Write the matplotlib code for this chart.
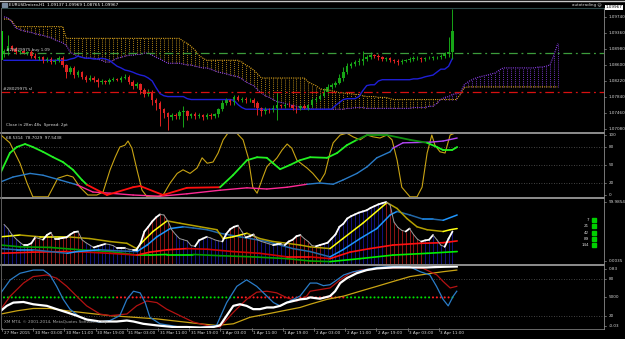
import numpy as np
import matplotlib
matplotlib.use("Agg")
import matplotlib.pyplot as plt
from matplotlib.collections import LineCollection
from matplotlib.lines import Line2D

# ---------------- data (EURUSDmicro H1) ----------------
first_open = 1.0885
closes = [1.0892, 1.0904, 1.0897, 1.0890, 1.0892, 1.0888, 1.0890, 1.0881, 1.0876, 1.0878,
          1.0871, 1.0874, 1.0867, 1.0871, 1.0876, 1.0860, 1.0843, 1.0853, 1.0836, 1.0843,
          1.0832, 1.0825, 1.0829, 1.0825, 1.0820, 1.0822, 1.0820, 1.0825, 1.0827, 1.0825,
          1.0829, 1.0832, 1.0820, 1.0811, 1.0815, 1.0801, 1.0792, 1.0797, 1.0778, 1.0769,
          1.0755, 1.0745, 1.0736, 1.0741, 1.0738, 1.0748, 1.0750, 1.0738, 1.0743, 1.0738,
          1.0741, 1.0736, 1.0741, 1.0738, 1.0743, 1.0755, 1.0769, 1.0776, 1.0771, 1.0783,
          1.0778, 1.0780, 1.0776, 1.0778, 1.0769, 1.0757, 1.0750, 1.0755, 1.0752, 1.0759,
          1.0764, 1.0762, 1.0766, 1.0764, 1.0759, 1.0757, 1.0762, 1.0759, 1.0764, 1.0776,
          1.0780, 1.0787, 1.0797, 1.0808, 1.0813, 1.0818, 1.0829, 1.0843, 1.0857, 1.0862,
          1.0867, 1.0869, 1.0874, 1.0878, 1.0883, 1.0881, 1.0878, 1.0874, 1.0876, 1.0871,
          1.0869, 1.0867, 1.0869, 1.0871, 1.0874, 1.0876, 1.0876, 1.0874, 1.0876, 1.0876,
          1.0878, 1.0878, 1.0881, 1.0885, 1.0890, 1.0941]
# wicks in pips above / below the body
wick_up = [6, 28, 4, 5, 3, 4, 3, 6, 8, 4,
           3, 5, 4, 3, 5, 6, 3, 5, 4, 6,
           3, 4, 6, 4, 3, 4, 3, 5, 4, 3,
           4, 6, 3, 4, 5, 3, 4, 5, 3, 4,
           5, 4, 3, 6, 5, 4, 12, 4, 3, 5,
           4, 3, 4, 5, 3, 4, 8, 5, 4, 6,
           5, 4, 5, 3, 4, 5, 3, 6, 4, 5,
           33, 4, 3, 5, 4, 3, 4, 5, 3, 6,
           5, 4, 8, 6, 5, 4, 10, 12, 8, 6,
           5, 7, 20, 6, 8, 4, 5, 3, 4, 4,
           3, 4, 5, 3, 4, 5, 6, 3, 4, 5,
           3, 4, 5, 6, 37, 52]
wick_dn = [5, 8, 4, 3, 5, 3, 4, 5, 3, 4,
           6, 3, 5, 4, 3, 5, 14, 5, 8, 4,
           6, 5, 4, 5, 12, 4, 5, 4, 3, 4,
           5, 3, 6, 8, 5, 10, 8, 6, 12, 15,
           40, 10, 30, 6, 5, 6, 35, 8, 4, 5,
           4, 6, 4, 5, 4, 6, 4, 3, 6, 5,
           4, 5, 6, 4, 8, 15, 10, 6, 5, 4,
           30, 5, 4, 3, 6, 12, 4, 3, 5, 4,
           5, 3, 4, 5, 4, 5, 3, 6, 4, 5,
           4, 6, 8, 5, 4, 5, 6, 4, 5, 4,
           5, 6, 4, 3, 5, 4, 5, 6, 4, 3,
           5, 4, 3, 4, 5, 17]
kijun = ([1.0871] * 17 +
         [1.0874, 1.0876, 1.0881, 1.0878, 1.0876, 1.0876, 1.0874, 1.0874, 1.0876, 1.0874,
          1.0871, 1.0864, 1.0857, 1.0853, 1.0848, 1.0846, 1.0843, 1.0839, 1.0836, 1.0834,
          1.0829, 1.0822, 1.0806, 1.0792, 1.0787] +
         [1.0785] * 5 + [1.0780] + [1.0778] * 11 + [1.0776, 1.0766, 1.0759] +
         [1.0755] * 23 + [1.0764, 1.0771, 1.0778] + [1.0780] * 3 +
         [1.0785, 1.0799, 1.0811] + [1.0813] * 2 + [1.0822] + [1.0825] * 8 +
         [1.0827] * 2 + [1.0829, 1.0832, 1.0834, 1.0836, 1.0843] + [1.0850] * 2 +
         [1.0857, 1.0876])
span_a = ([1.0969, 1.0969, 1.0965] + [1.0951] * 13 + [1.0923] * 30 +
          [1.0916, 1.0911, 1.0904, 1.0895, 1.0883, 1.0876] + [1.0871] * 9 +
          [1.0867, 1.0860, 1.0855, 1.0848, 1.0839] + [1.0829] * 12 +
          [1.0820, 1.0815, 1.0811, 1.0804, 1.0801, 1.0801, 1.0799, 1.0797, 1.0794, 1.0794,
           1.0792, 1.0792, 1.0790, 1.0790, 1.0787] +
          [1.0785] * 3 + [1.0783] * 3 + [1.0780] + [1.0778] * 17 + [1.0790, 1.0806] +
          [1.0808] * 24)
span_b = ([1.0974, 1.0972, 1.0962, 1.0948, 1.0944, 1.0941, 1.0939, 1.0937, 1.0934, 1.0932,
           1.0930, 1.0927, 1.0925, 1.0920, 1.0916, 1.0913, 1.0906, 1.0890, 1.0885, 1.0881,
           1.0878] + [1.0876] * 3 +
          [1.0874, 1.0871, 1.0867, 1.0867, 1.0871, 1.0876, 1.0878, 1.0881, 1.0883, 1.0883,
           1.0885, 1.0885, 1.0888, 1.0888, 1.0883, 1.0878, 1.0874, 1.0869] +
          [1.0864] * 4 +
          [1.0862, 1.0860, 1.0860, 1.0857, 1.0855, 1.0853, 1.0853, 1.0850, 1.0846, 1.0843,
           1.0841, 1.0839, 1.0836, 1.0834, 1.0832, 1.0827, 1.0820, 1.0815, 1.0811, 1.0801,
           1.0794, 1.0787, 1.0783, 1.0778, 1.0773, 1.0771, 1.0769, 1.0766, 1.0764, 1.0762,
           1.0759] +
          [1.0757] * 2 + [1.0755] * 9 + [1.0757] * 2 + [1.0759] * 3 + [1.0757] * 12 +
          [1.0759] * 4 + [1.0762] * 2 +
          [1.0769, 1.0778, 1.0783, 1.0785, 1.0790, 1.0792, 1.0794, 1.0813, 1.0820, 1.0825,
           1.0829, 1.0832, 1.0834, 1.0836, 1.0839, 1.0841, 1.0848] +
          [1.0853] * 9 + [1.0855, 1.0855, 1.0857, 1.0860, 1.0883, 1.0911])
buy_level = 1.0888
sl_level = 1.0797
price_ticks = [1.0974, 1.0936, 1.0898, 1.0860, 1.0822, 1.0784, 1.0746, 1.0708]

# window 1 (bar index, value)
osc_fast = [(-0.8, 100), (1.5, 87), (4.1, 53), (5.9, 20), (7.4, -3), (11.3, -3), (12.6, 13), (13.8, 28),
            (16.2, 33), (17.7, 30), (19.5, 13), (21.5, 0), (23.8, 0), (25.4, 5), (27.2, 42), (28.5, 63),
            (29.7, 80), (31, 83), (31.8, 90), (32.8, 78), (34.1, 42), (35.4, 8), (36.7, -3), (39.2, -3),
            (40.8, 0), (42.6, 20), (44.4, 36), (45.9, 42), (47.7, 36), (49.5, 45), (50.8, 62), (52.1, 53),
            (53.6, 55), (54.9, 70), (56.2, 92), (57.4, 103), (59.7, 103), (61.3, 92), (62.6, 63), (63.8, 13),
            (64.9, 3), (66.4, 30), (67.4, 47), (68.2, 53), (69, 55), (70, 62), (71.3, 75), (72.6, 85),
            (73.8, 78), (75.1, 58), (77.7, 45), (79.2, 36), (81, 22), (82.3, 36), (83.6, 70), (84.4, 87),
            (86.2, 100), (87.9, 103), (89.5, 97), (91.3, 92), (93.1, 100), (94.6, 97), (96.4, 95),
            (98.2, 100), (99.5, 92), (100.8, 58), (102, 13), (104.1, -3), (105.9, -3), (107.2, 13),
            (108.5, 70), (109.7, 100), (110.5, 83), (111.8, 72), (113.1, 70), (114.4, 100), (115.6, 103)]
osc_mid = [(-0.8, 38), (1.5, 70), (3.3, 80), (5.4, 85), (7.4, 80), (10, 72), (12.6, 63), (15.1, 55),
           (17.7, 42), (20, 25), (21.3, 17), (26.4, 0), (33.1, 13), (34.9, 15), (40.8, 0), (46.9, 12),
           (55.4, 13), (58.7, 33), (62.3, 58), (64.9, 63), (67.4, 62), (69, 53), (70.8, 43), (73.3, 50),
           (75.9, 58), (78.5, 63), (82.8, 62), (85.4, 70), (87.9, 83), (90.5, 92), (93.1, 100),
           (98.2, 100), (104.1, 92), (108.5, 87), (111, 80), (112.6, 75), (114.9, 75), (116.2, 80)]
osc_slow = [(-0.8, 22), (2.3, 30), (6.7, 36), (10, 33), (14.4, 25), (18.7, 17), (22.8, 5), (27.2, 3),
            (33.1, 0), (40, -2), (46.9, 2), (55.4, 8), (62.3, 12), (67.4, 10), (72.6, 13), (77.7, 18),
            (81, 20), (84.4, 18), (86.9, 25), (90.5, 36), (93.1, 47), (95.6, 62), (99, 72), (99.7, 78),
            (102.3, 87), (109.2, 88), (112.6, 90), (116.2, 95)]
osc_header = "68.5314  78.7029  97.5438"

# window 2
rsi_bars = [62, 55, 45, 38, 32, 27, 27, 30, 40, 38,
            36, 44, 48, 38, 38, 39, 40, 45, 49, 50,
            36, 31, 27, 23, 25, 27, 29, 28, 26, 22,
            22, 22, 20, 19, 19, 30, 50, 58, 67, 74,
            79, 78, 68, 53, 45, 38, 36, 34, 26, 25,
            35, 38, 41, 39, 36, 34, 33, 46, 54, 58,
            60, 50, 40, 42, 45, 36, 33, 31, 29, 27,
            28, 28, 27, 33, 36, 42, 44, 38, 33, 26,
            25, 27, 29, 31, 38, 45, 58, 63, 72, 76,
            79, 82, 84, 86, 90, 93, 96, 98, 100, 95,
            66, 57, 52, 50, 55, 45, 37, 33, 35, 36,
            44, 36, 27, 24, 38, 50]
hist_red_ranges = [(6, 20), (35, 43), (58, 64), (73, 81), (98, 107)]
ma21 = [(-0.8, 41), (4.1, 44), (9.2, 41), (16.2, 41), (22, 38), (27.2, 33), (31.5, 30), (34, 21),
        (35.6, 33), (38.2, 50), (41.8, 68), (45.1, 64), (50.3, 58), (54.6, 53), (56.2, 38), (58.7, 41),
        (62.3, 47), (65.6, 38), (69, 33), (72.6, 30), (75.9, 27), (78.5, 24), (83.6, 21), (86.9, 38),
        (92, 64), (98.2, 99), (100.8, 89), (103.3, 72), (105.9, 58), (108.5, 53), (112.6, 50),
        (114.4, 53), (116.2, 55)]
ma42 = [(-0.8, 21), (3.3, 19), (7.4, 19), (11.8, 16), (16.2, 13), (18.7, 16), (24.6, 19), (29.7, 17),
        (34.1, 16), (36.7, 27), (39.2, 41), (42.6, 55), (46, 58), (48.5, 56), (52.1, 53), (55.4, 47),
        (60.5, 41), (67.4, 33), (74.1, 21), (78.5, 16), (83.6, 7), (86.9, 19), (91.3, 38), (95.6, 55),
        (99, 78), (100.8, 84), (104.1, 78), (107.4, 71), (110, 71), (112.6, 69), (116.2, 78)]
ma89 = [(-0.8, 13), (7.4, 15), (16.2, 16), (21.3, 15), (27.2, 13), (34.1, 10), (37.4, 15), (41.8, 19),
        (46.9, 21), (52.1, 20), (58.7, 16), (65.6, 13), (72.6, 7), (78.5, 7), (83.6, 4), (88.7, 15),
        (93.8, 21), (99.7, 27), (106.7, 30), (112.6, 31), (116.2, 34)]
ma144 = [(-0.8, 27), (4.1, 24), (11.8, 23), (19.5, 19), (27.2, 16), (34.1, 10), (37.4, 10), (41.8, 11),
         (48.5, 11), (55.4, 9), (63.8, 7), (72.6, 4), (78.5, 0), (83.6, -1), (91.3, 4), (99.7, 10),
         (108.5, 13), (116.2, 16)]
legend_periods = ["7", "21", "42", "89", "144"]

# window 3
w3_white = [(-0.8, 0.284), (0.7, 0.363), (2.4, 0.416), (5, 0.426), (7.5, 0.389), (11, 0.363),
            (13.5, 0.310), (16.1, 0.258), (18.6, 0.205), (21.2, 0.142), (24.6, 0.110), (28.9, 0.110),
            (31.5, 0.126), (33.2, 0.110), (35.7, 0.073), (39.2, 0.047), (43.4, 0.021), (46.8, 0.021),
            (50.3, 0.012), (53.7, 0.021), (55.4, 0.047), (57.1, 0.205), (58.8, 0.363), (60.5, 0.389),
            (62.2, 0.363), (63.9, 0.310), (65.6, 0.310), (67.4, 0.337), (69.1, 0.337), (70.8, 0.363),
            (72.5, 0.416), (74.2, 0.442), (75.9, 0.468), (77.6, 0.479), (78.5, 0.500), (81, 0.479),
            (83.6, 0.521), (84.9, 0.600), (86.2, 0.732), (87.9, 0.811), (90.4, 0.890), (93, 0.942),
            (95.6, 0.969), (99.8, 0.985), (104.1, 0.985), (108.4, 0.985), (112.6, 0.995), (116.1, 1.0)]
w3_blue = [(-0.8, 0.574), (1.6, 0.784), (4.1, 0.890), (7.5, 0.942), (10.1, 0.942), (11.8, 0.863),
           (13.5, 0.679), (15.2, 0.468), (16.9, 0.310), (19.5, 0.179), (22.1, 0.126), (24.6, 0.100),
           (27.2, 0.126), (29.7, 0.205), (31.5, 0.468), (33.2, 0.600), (34.9, 0.574), (36.2, 0.416),
           (37.4, 0.179), (40, 0.073), (45.1, 0.021), (50.3, 0.012), (54.5, 0.047), (57.1, 0.416),
           (59.7, 0.679), (62.2, 0.784), (64.8, 0.679), (67.4, 0.521), (69.1, 0.416), (70.8, 0.363),
           (73.3, 0.442), (75.9, 0.521), (78.5, 0.732), (80.2, 0.732), (81.9, 0.690), (83.6, 0.705),
           (85.4, 0.784), (87.1, 0.863), (89.6, 0.916), (92.2, 0.942), (95.6, 0.985), (99.8, 1.0),
           (104.1, 0.995), (106.7, 0.916), (109.2, 0.863), (110.9, 0.679), (112.6, 0.468),
           (113.9, 0.363), (115.2, 0.521), (116.1, 0.600)]
w3_red = [(-0.8, 0.310), (1.6, 0.521), (5, 0.732), (7.5, 0.837), (11, 0.863), (13.5, 0.811),
          (16.1, 0.679), (18.6, 0.521), (21.2, 0.363), (24.6, 0.231), (27.2, 0.205), (31.5, 0.231),
          (34, 0.363), (36.6, 0.442), (39.2, 0.416), (41.7, 0.310), (45.1, 0.205), (48.6, 0.100),
          (52, 0.047), (55.4, 0.021), (58.8, 0.258), (62.2, 0.468), (64.8, 0.584), (67.4, 0.600),
          (69.9, 0.574), (72.5, 0.495), (75.1, 0.442), (77.6, 0.521), (78.5, 0.600), (81, 0.626),
          (83.6, 0.653), (86.2, 0.784), (88.7, 0.890), (91.3, 0.942), (95.6, 0.969), (104.1, 0.985),
          (107.5, 0.969), (111, 0.863), (112.6, 0.758), (114.4, 0.653), (116.1, 0.679)]
w3_gold = [(-0.8, 0.231), (3.4, 0.284), (7.5, 0.321), (11.8, 0.321), (16.1, 0.284), (21.2, 0.247),
           (27.2, 0.205), (33.2, 0.179), (39.2, 0.152), (45.1, 0.110), (50.3, 0.073), (54.5, 0.047),
           (58.8, 0.073), (63.1, 0.179), (67.4, 0.231), (71.6, 0.284), (75.9, 0.337), (78.5, 0.389),
           (82.8, 0.468), (87.1, 0.521), (91.3, 0.600), (95.6, 0.679), (99.8, 0.758), (104.1, 0.837),
           (108.4, 0.879), (112.6, 0.916), (116.1, 0.942)]
dot_red_ranges = [(29, 37), (60, 87), (110, 114)]

time_labels = ["27 Mar 2015", "30 Mar 03:00", "30 Mar 11:00", "30 Mar 19:00", "31 Mar 03:00",
               "31 Mar 11:00", "31 Mar 19:00", "1 Apr 03:00", "1 Apr 11:00", "1 Apr 19:00",
               "2 Apr 03:00", "2 Apr 11:00", "2 Apr 19:00", "3 Apr 03:00", "3 Apr 11:00"]

# ---------------- figure ----------------
W, H = 625, 339
FS = 3.0
TXT = '#d8d8d8'
fig = plt.figure(figsize=(W / 100, H / 100), dpi=100, facecolor='black')


def box(x0, y0, x1, y1):
    return [x0 / W, 1 - y1 / H, (x1 - x0) / W, (y1 - y0) / H]


XL = (-0.77, 153.85)


def panel(y0, y1, ylim):
    ax = fig.add_axes(box(1, y0, 604, y1))
    ax.set_facecolor('black')
    ax.set_xlim(*XL)
    ax.set_ylim(*ylim)
    ax.set_xticks([])
    ax.set_yticks([])
    for s in ax.spines.values():
        s.set_visible(False)
    return ax


def fig_line(xs, ys, color, lw):
    fig.add_artist(Line2D([x / W for x in xs], [1 - y / H for y in ys], color=color, lw=lw))


def rlabel(ax, v, s):
    tr = ax.get_yaxis_transform()
    ax.plot([1.0, 1.004], [v, v], transform=tr, color='#b0b0b0', lw=0.4, clip_on=False)
    ax.text(1.0075, v, s, transform=tr, fontsize=FS, color=TXT, va='center', ha='left', clip_on=False)


def unzip(pts):
    return np.array([p[0] for p in pts]), np.array([p[1] for p in pts])


def colored(ax, pts, pick, lw):
    x, y = unzip(pts)
    segs = np.stack([np.column_stack([x[:-1], y[:-1]]), np.column_stack([x[1:], y[1:]])], axis=1)
    cols = [pick(a, b) for a, b in zip(y[:-1], y[1:])]
    ax.add_collection(LineCollection(segs, colors=cols, linewidths=lw, capstyle='round'))


def in_ranges(i, ranges):
    return any(a <= i <= b for a, b in ranges)


# ---- main chart ----
ax = panel(9, 132, (1.07010, 1.09927))
ORANGE, PURPLE = '#d9a21b', '#8a3ee8'
ci = np.arange(len(span_a))
sa, sb = np.array(span_a), np.array(span_b)
ax.vlines(ci, np.minimum(sa, sb), np.maximum(sa, sb),
          colors=[ORANGE if a >= b else PURPLE for a, b in zip(sa, sb)],
          linestyles=(0, (1, 1.3)), lw=0.6)
ax.plot(ci, sa, color=ORANGE, ls=(0, (1, 1)), lw=0.8)
ax.plot(ci, sb, color=PURPLE, ls=(0, (1, 1)), lw=0.8)

bi = np.arange(len(closes))
c = np.array(closes)
o = np.array([first_open] + closes[:-1])
hi = np.maximum(o, c) + np.array(wick_up) * 0.0001
lo = np.minimum(o, c) - np.array(wick_dn) * 0.0001
ccol = np.where(c >= o, '#17a517', '#e02222')
ax.plot(bi, kijun, color='#1f1fd6', lw=1.0)
ax.vlines(bi, lo, hi, colors=ccol, lw=0.7)
ax.bar(bi, np.maximum(np.abs(c - o), 0.00004), bottom=np.minimum(o, c), width=0.62, color=ccol, lw=0)

ax.axhline(buy_level, color='#3c9c3c', lw=0.9, ls=(0, (7, 3, 1.5, 3)))
ax.axhline(sl_level, color='#d81010', lw=0.9, ls=(0, (7, 3, 1.5, 3)))
ax.text(0.5, buy_level + 0.0002, "#28029975 buy 1.09", fontsize=FS, color=TXT, va='bottom')
ax.text(-0.2, sl_level + 0.0002, "#28029975 sl", fontsize=FS, color=TXT, va='bottom')
ax.vlines(-0.45, 1.0871, 1.0941, color='#00e000', lw=1.4)
ax.text(0.008, 0.06, "Close in 28m 48s  Spread: 2pt", transform=ax.transAxes, fontsize=FS, color=TXT,
        va='center')
for p in price_ticks:
    rlabel(ax, p, f"{p:.5f}")

# ---- window 1 ----
a1 = panel(134, 197, (-3.3, 101.7))
for lv in (80, 50, 20):
    a1.axhline(lv, color='#5a5a5a', lw=0.6, ls=(0, (1, 2)))
fx, fy = unzip(osc_fast)
a1.plot(fx, fy, color='#c9a414', lw=0.8)
colored(a1, osc_slow, lambda a, b: '#ff2a95' if (a + b) / 2 < 19 else ('#b347f5' if (a + b) / 2 > 79 else '#2a7cc8'), 1.0)
colored(a1, osc_mid, lambda a, b: '#ff1010' if (a + b) / 2 < 19 else ('#0f8f0f' if (a + b) / 2 > 88 else '#22f022'), 1.3)
a1.text(0.008, 0.93, osc_header, transform=a1.transAxes, fontsize=FS, color=TXT, va='center')
for v, s in ((100, "100"), (80, "80"), (50, "50"), (20, "20"), (0, "0")):
    rlabel(a1, v, s)

# ---- window 2 ----
a2 = panel(199, 264, (-5.1, 105.1))
ri = np.arange(len(rsi_bars))
a2.vlines(ri, -5.1, rsi_bars, colors=['#8e1414' if in_ranges(i, hist_red_ranges) else '#12127e' for i in ri],
          lw=0.7)
colored(a2, ma144, lambda a, b: '#00f000' if b >= a else '#00a000', 1.2)
colored(a2, ma89, lambda a, b: '#ff1010' if b >= a else '#d00000', 1.2)
colored(a2, ma42, lambda a, b: '#1e96ff' if b >= a else '#2368a8', 1.1)
colored(a2, ma21, lambda a, b: '#ffff10' if b >= a else '#b4a000', 1.1)
white_pts = list(zip(ri, rsi_bars))
wx, wy = unzip(white_pts)
for k in range(len(wx) - 1):
    up = wy[k + 1] >= wy[k]
    a2.plot(wx[k:k + 2], wy[k:k + 2], color='white' if up else '#9a9a9a', lw=1.3 if up else 0.7,
            solid_capstyle='round')
for k, s in enumerate(legend_periods):
    yy = 220 + k * 6.3
    fig.text(589 / W, 1 - yy / H, s, fontsize=FS, color=TXT, ha='right', va='center')
    fig.add_artist(plt.Rectangle((592 / W, 1 - (yy + 2) / H), 4 / W, 4 / H, color='#00d000',
                                 transform=fig.transFigure))
rlabel(a2, 100, "99.9854")
rlabel(a2, 0, "0.0035")

# ---- window 3 ----
a3 = panel(266, 328, (0.005, 1.008))
for lv in (0.8, 0.2):
    a3.axhline(lv, color='#5a5a5a', lw=0.6, ls=(0, (1, 2)))
di = np.arange(len(closes))
a3.scatter(di, np.full(len(di), 0.5), s=2.2, lw=0,
           c=['#ff2020' if in_ranges(i, dot_red_ranges) else '#00e000' for i in di], zorder=2)
for pts, col, lw in ((w3_gold, '#c9a414', 0.9), (w3_red, '#b31212', 0.9), (w3_blue, '#2a7cc8', 0.9),
                     (w3_white, 'white', 1.6)):
    x, y = unzip(pts)
    a3.plot(x, y, color=col, lw=lw, zorder=3)
a3.text(0.005, 0.09, "XM MT4, \u00a9 2001-2014, MetaQuotes Software Corp.", transform=a3.transAxes,
        fontsize=FS, color='#a8a8a8', va='center')
for v, s in ((0.958, "0.83"), (0.8, "80"), (0.5, "5000"), (0.2, "20"), (0.042, "-0.03")):
    rlabel(a3, v, s)

tr = a3.get_xaxis_transform()
for k, s in enumerate(time_labels):
    xk = k * 8 - 0.5
    a3.plot([xk, xk], [0, -0.05], transform=tr, color='#b0b0b0', lw=0.4, clip_on=False)
    a3.text(xk + 0.4, -0.085, s, transform=tr, fontsize=FS, color=TXT, ha='left', va='center', clip_on=False)

# ---- frame / title bar ----
fig_line([0, 625], [1.2, 1.2], '#c8c8c8', 1.0)
fig_line([1, 604], [8.3, 8.3], '#2e4a4a', 0.8)
for yy in (133, 198.2, 265):
    fig_line([1, 604], [yy, yy], '#b4b4b4', 1.1)
fig_line([1, 604], [328.5, 328.5], '#7a7a7a', 0.6)
fig_line([604, 604], [8.3, 328.5], '#8a8a8a', 0.6)
fig_line([1, 1], [8.3, 328.5], '#6a6a6a', 0.6)
fig.add_artist(plt.Rectangle((2 / W, 1 - 7 / H), 5 / W, 4 / H, color='#7a8ca0', transform=fig.transFigure))
fig.text(9 / W, 1 - 4.8 / H, "EURUSDmicro,H1  1.09137 1.09969 1.08765 1.09967", fontsize=FS, color='white',
         va='center')
fig.text(602 / W, 1 - 4.8 / H, "autotrading \u263a", fontsize=FS, color=TXT, ha='right', va='center')
fig.text(606 / W, 1 - 7.5 / H, "1.09967", fontsize=FS, color='black', va='center',
         bbox=dict(facecolor='white', edgecolor='none', pad=0.4))

fig.savefig("out.png", dpi=100, facecolor='black')
